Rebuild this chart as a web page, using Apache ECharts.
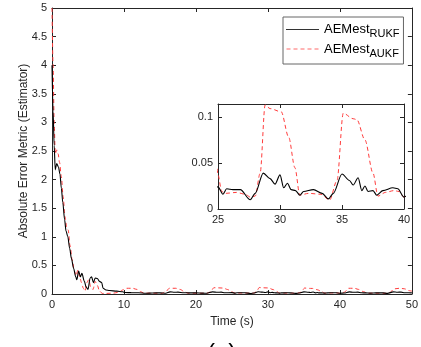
<!DOCTYPE html>
<html>
<head>
<meta charset="utf-8">
<script src="https://cdn.jsdelivr.net/npm/echarts@6/dist/echarts.min.js"></script>
<style>
  html, body { margin: 0; padding: 0; background: #fff; }
  #chart { width: 421px; height: 347px; }
</style>
</head>
<body>
<div id="chart"></div>
<script>
// RUKF estimator error (black solid)
var rukfT = [0, 0.15, 0.3, 0.45, 0.65, 0.9, 1.1, 1.3, 1.5, 1.75, 1.95, 2.2, 2.45, 2.7, 3.0, 3.3, 3.45, 3.7, 3.95, 4.15, 4.5, 4.75, 5.0, 5.3, 5.5, 5.75, 6.0, 6.3, 6.6, 6.9, 7.1, 7.5, 8, 9, 9.8, 10.2, 11, 12, 13, 14, 15, 15.8, 16.4, 17.0, 17.5, 18.3, 19, 20, 21, 21.5, 22.3, 23, 23.5, 24, 25, 25.4, 25.7, 26.2, 26.8, 27.6, 28, 28.65, 29.2, 29.6, 30.0, 30.3, 30.6, 30.9, 31.25, 31.6, 31.9, 32.7, 33.4, 33.9, 34.3, 35.0, 35.6, 35.9, 36.3, 36.6, 36.85, 37.1, 37.5, 37.8, 38.3, 39.1, 39.5, 40, 40.6, 41.3, 41.9, 42.5, 43, 43.6, 44.2, 45, 46, 46.6, 47.4, 48, 48.5, 49, 49.5, 50];
var rukfV = [4.0, 3.2, 2.6, 2.17, 2.28, 2.22, 2.1, 1.85, 1.6, 1.3, 1.1, 1.0, 0.8, 0.62, 0.45, 0.3, 0.25, 0.4, 0.3, 0.36, 0.22, 0.12, 0.08, 0.28, 0.3, 0.2, 0.28, 0.27, 0.22, 0.2, 0.1, 0.07, 0.06, 0.05, 0.04, 0.025, 0.024, 0.022, 0.012, 0.018, 0.02, 0.014, 0.038, 0.03, 0.032, 0.022, 0.02, 0.021, 0.015, 0.012, 0.037, 0.03, 0.033, 0.022, 0.024, 0.016, 0.022, 0.021, 0.021, 0.01, 0.017, 0.039, 0.033, 0.027, 0.037, 0.023, 0.028, 0.021, 0.02, 0.015, 0.019, 0.021, 0.017, 0.011, 0.017, 0.038, 0.031, 0.026, 0.034, 0.02, 0.025, 0.019, 0.02, 0.015, 0.02, 0.023, 0.022, 0.013, 0.018, 0.037, 0.03, 0.032, 0.021, 0.02, 0.015, 0.02, 0.02, 0.011, 0.037, 0.031, 0.033, 0.022, 0.023, 0.02];

// AUKF estimator error (red dashed)
var aukfT = [0, 0.15, 0.3, 0.45, 0.65, 0.85, 1.05, 1.3, 1.55, 1.8, 2.05, 2.25, 2.5, 2.8, 3.1, 3.35, 3.6, 3.85, 4.1, 4.35, 4.6, 4.85, 5.1, 5.4, 5.7, 6.0, 6.3, 6.6, 7.0, 7.5, 8.5, 9.3, 9.8, 10.4, 11.2, 11.8, 12.3, 12.8, 14, 15.3, 15.8, 16.3, 17.2, 17.8, 18.4, 18.9, 20, 21.5, 22.0, 22.5, 22.9, 23.8, 24.4, 24.9, 25, 25.3, 25.6, 26.5, 27.2, 27.6, 28.0, 28.4, 28.8, 29.2, 30.1, 30.7, 31.2, 31.6, 32.3, 33.3, 34.0, 34.6, 35.1, 35.9, 36.2, 36.85, 37.5, 37.9, 38.5, 39.2, 39.6, 40, 40.6, 41.2, 42, 42.6, 43.3, 43.8, 45, 46.5, 47.0, 47.5, 48.3, 49, 49.5, 50];
var aukfV = [5.0, 4.0, 3.0, 2.45, 2.52, 2.45, 2.3, 2.05, 1.7, 1.35, 1.17, 1.12, 0.85, 0.6, 0.4, 0.32, 0.42, 0.3, 0.2, 0.1, 0.05, 0.2, 0.25, 0.12, 0.08, 0.22, 0.15, 0.05, 0.01, 0.01, 0.015, 0.03, 0.07, 0.1, 0.1, 0.08, 0.04, 0.015, 0.015, 0.012, 0.04, 0.1, 0.1, 0.08, 0.04, 0.015, 0.015, 0.012, 0.035, 0.11, 0.108, 0.104, 0.078, 0.045, 0.037, 0.019, 0.017, 0.018, 0.016, 0.013, 0.014, 0.039, 0.113, 0.109, 0.1055, 0.078, 0.045, 0.015, 0.017, 0.016, 0.0097, 0.031, 0.104, 0.098, 0.097, 0.075, 0.039, 0.014, 0.018, 0.02, 0.019, 0.013, 0.03, 0.1, 0.1, 0.08, 0.04, 0.015, 0.015, 0.012, 0.03, 0.09, 0.1, 0.09, 0.06, 0.05];

var seriesNames = ['RUKF', 'AUKF'];

function pairs(t, v) {
  return t.map(function (x, i) { return [x, v[i]]; });
}

var txt = '#262626';
var red = '#ff3b3b';
var myChart = echarts.init(document.getElementById('chart'));

function box(gridIndex, min, max, interval, pos, extra) {
  return Object.assign({
    gridIndex: gridIndex, type: 'value', min: min, max: max, interval: interval, position: pos,
    axisLine: { show: true, onZero: false, lineStyle: { color: txt, width: 1 } },
    axisTick: { show: true, inside: true, length: 4, lineStyle: { color: txt } },
    axisLabel: { show: false },
    splitLine: { show: false }
  }, extra || {});
}

var lbl = { show: true, color: txt, fontFamily: 'Liberation Sans', fontSize: 11, margin: 5 };
var nameStyle = { color: txt, fontFamily: 'Liberation Sans', fontSize: 12 };

// legend line samples (solid and dashed)
var solidIcon = 'path://M0,0H33V1H0Z';
var dashIcon = 'path://M0,0H4V1H0Z M7,0H11V1H7Z M14,0H18V1H14Z M21,0H25V1H21Z M28,0H32V1H28Z';

var option = {
  backgroundColor: '#fff',
  animation: false,
  grid: [
    { left: 52, top: 8, right: 8, bottom: 53 },
    { left: 218, top: 104, width: 186, height: 105, show: true, backgroundColor: '#fff', borderWidth: 0, z: 5 }
  ],
  xAxis: [
    box(0, 0, 50, 10, 'bottom', { axisLabel: lbl, name: 'Time (s)', nameLocation: 'middle', nameGap: 22, nameMoveOverlap: false, nameTextStyle: nameStyle }),
    box(0, 0, 50, 10, 'top'),
    box(1, 25, 40, 5, 'bottom', { axisLabel: lbl, z: 6 }),
    box(1, 25, 40, 5, 'top', { z: 6 })
  ],
  yAxis: [
    box(0, 0, 5, 0.5, 'left', { axisLabel: lbl, name: 'Absolute Error Metric (Estimator)', nameLocation: 'middle', nameGap: 22, nameMoveOverlap: false, nameTextStyle: nameStyle }),
    box(0, 0, 5, 0.5, 'right'),
    box(1, 0, 0.114, 0.05, 'left', { axisLabel: Object.assign({}, lbl, { showMaxLabel: false }), z: 6 }),
    box(1, 0, 0.114, 0.05, 'right', { z: 6 })
  ],
  legend: {
    left: 283, top: 17, orient: 'vertical',
    data: [
      { name: seriesNames[0], icon: solidIcon },
      { name: seriesNames[1], icon: dashIcon }
    ],
    backgroundColor: '#fff', borderColor: '#666', borderWidth: 1,
    padding: [6, 4, 5, 3], itemGap: 3, itemWidth: 33, itemHeight: 1, itemStyle: { borderWidth: 0 },
    formatter: function (name) { return '{m|AEMest}{s|' + name + '}'; },
    textStyle: {
      color: '#000', fontFamily: 'Liberation Sans',
      rich: {
        m: { fontSize: 13, lineHeight: 20, fontFamily: 'Liberation Sans', color: '#000' },
        s: { fontSize: 11, lineHeight: 8, verticalAlign: 'bottom', fontFamily: 'Liberation Sans', color: '#000' }
      }
    }
  },
  series: [
    { name: 'RUKF', type: 'line', xAxisIndex: 0, yAxisIndex: 0, data: pairs(rukfT, rukfV), symbol: 'none', smooth: 0.3, smoothMonotone: 'x',
      lineStyle: { color: '#000', width: 1.1 }, itemStyle: { color: '#333' }, z: 3 },
    { name: 'AUKF', type: 'line', xAxisIndex: 0, yAxisIndex: 0, data: pairs(aukfT, aukfV), symbol: 'none', smooth: 0.3, smoothMonotone: 'x',
      lineStyle: { color: red, width: 1, type: [4, 3] }, itemStyle: { color: '#ff6a6a' }, z: 2 },
    { name: 'RUKF', type: 'line', xAxisIndex: 2, yAxisIndex: 2, data: pairs(rukfT, rukfV), symbol: 'none', smooth: 0.3, smoothMonotone: 'x',
      lineStyle: { color: '#000', width: 1.1 }, z: 8 },
    { name: 'AUKF', type: 'line', xAxisIndex: 2, yAxisIndex: 2, data: pairs(aukfT, aukfV), symbol: 'none', smooth: 0.3, smoothMonotone: 'x',
      lineStyle: { color: red, width: 1, type: [4, 3] }, z: 7 }
  ],
  graphic: [
    { type: 'text', left: 207, top: 341, style: { text: '(a)', fontSize: 24, fontFamily: 'Liberation Sans', fill: '#000' } }
  ]
};

myChart.setOption(option);
window.addEventListener('resize', function () { myChart.resize(); });
</script>
</body>
</html>
